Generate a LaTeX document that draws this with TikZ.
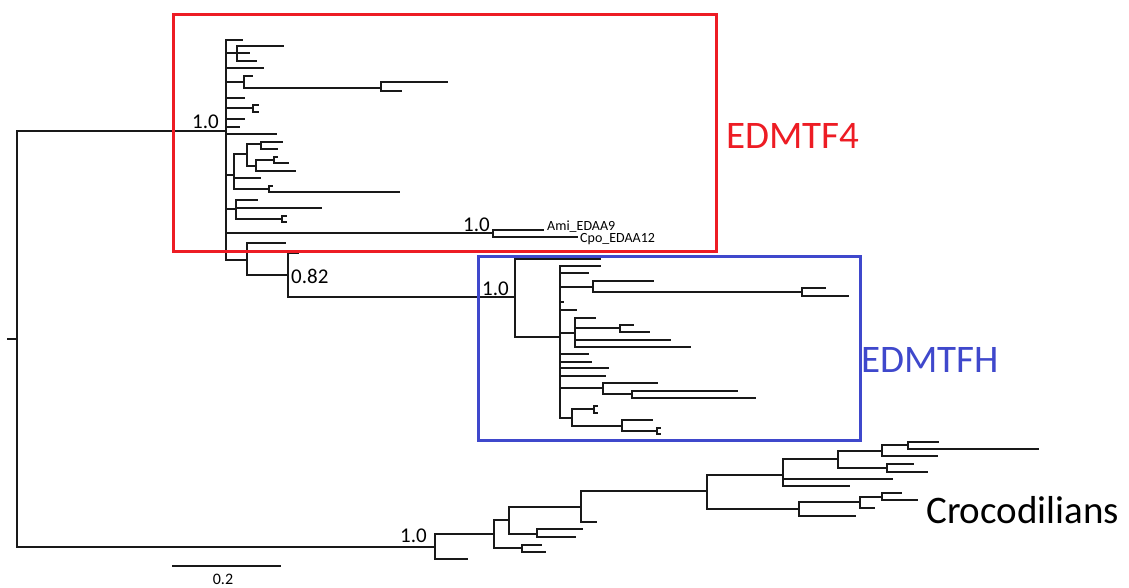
\documentclass[tikz,border=0pt]{standalone}
\usepackage{fontspec}
\setmainfont{Carlito}
\definecolor{boxred}{RGB}{237,28,36}
\definecolor{boxblue}{RGB}{63,72,204}
\newcommand\HB[3]{\draw[br] (#1,#2) -- (#3,#2);}
\newcommand\VB[3]{\draw[br] (#1,#2) -- (#1,#3);}
\tikzset{
  br/.style={line width=1.8pt, line cap=rect, black!90},
  supp/.style={font=\fontsize{21}{23}\selectfont, inner sep=0pt},
  taxon/.style={font=\fontsize{14}{15}\selectfont, inner sep=0pt},
  grp/.style={font=\fontsize{39}{41}\selectfont, inner sep=0pt, anchor=west},
  clbox/.style={line width=3pt}
}
\begin{document}
\begin{tikzpicture}[x=1pt,y=-1pt]
\useasboundingbox (0,0) rectangle (1129,587);
% root
\HB{8}{339}{17}
\VB{17}{131}{547}
\HB{17}{131}{226}
\HB{17}{547}{435}
% EDMTF4 clade
\VB{226}{40}{260}
\HB{226}{40}{242}
\HB{226}{53}{237}\VB{237}{46}{61}\HB{237}{46}{283}\HB{237}{53}{249}\HB{237}{61}{256}
\HB{226}{68}{263}
\HB{226}{82}{244}\VB{244}{76}{88}\HB{244}{76}{252}\HB{244}{88}{381}\VB{381}{82}{91}\HB{381}{82}{447}\HB{381}{91}{401}
\HB{226}{98}{244}
\HB{226}{108}{253}\VB{253}{105}{112}\HB{253}{105}{258}\HB{253}{112}{258}
\HB{226}{119}{244}
\HB{226}{127}{239}
\HB{226}{134}{276}
\HB{226}{175}{234}\VB{234}{154}{189}
\HB{234}{154}{247}\VB{247}{144}{166}
\HB{247}{144}{261}\VB{261}{142}{149}\HB{261}{142}{282}\HB{261}{149}{277}
\HB{247}{166}{256}\VB{256}{160}{171}
\HB{256}{160}{274}\VB{274}{157}{163}\HB{274}{157}{277}\HB{274}{163}{288}
\HB{256}{171}{295}
\HB{234}{178}{260}
\HB{234}{189}{269}\VB{269}{186}{192}\HB{269}{186}{272}\HB{269}{192}{399}
\HB{226}{209}{236}\VB{236}{200}{219}\HB{236}{200}{257}\HB{236}{208}{321}\HB{236}{219}{282}
\VB{282}{216}{222}\HB{282}{216}{286}\HB{282}{222}{286}
\HB{226}{233}{493}\VB{493}{230}{237}\HB{493}{230}{543}\HB{493}{237}{577}
\HB{226}{260}{247}\VB{247}{243}{275}\HB{247}{243}{285}\HB{247}{275}{288}
\VB{288}{253}{297}\HB{288}{253}{298}\HB{288}{297}{515}
% EDMTFH clade
\VB{515}{259}{337}
\HB{515}{259}{600}
\HB{515}{337}{560}\VB{560}{266}{418}
\HB{560}{266}{600}
\HB{560}{273}{588}
\HB{560}{287}{593}\VB{593}{281}{292}\HB{593}{281}{653}\HB{593}{292}{802}\VB{802}{288}{296}\HB{802}{288}{825}\HB{802}{296}{848}
\HB{560}{302}{563}
\HB{560}{310}{576}
\HB{560}{333}{575}\VB{575}{318}{347}\HB{575}{318}{595}\HB{575}{328}{620}\VB{620}{325}{332}\HB{620}{325}{633}\HB{620}{332}{649}\HB{575}{340}{670}\HB{575}{347}{690}
\HB{560}{354}{588}
\HB{560}{362}{591}
\HB{560}{368}{608}
\HB{560}{376}{605}
\HB{560}{388}{603}\VB{603}{383}{394}\HB{603}{383}{657}\HB{603}{394}{632}\VB{632}{391}{398}\HB{632}{391}{737}\HB{632}{398}{755}
\HB{560}{418}{572}\VB{572}{409}{426}\HB{572}{409}{594}\VB{594}{406}{413}\HB{594}{406}{597}\HB{594}{413}{597}
\HB{572}{426}{622}\VB{622}{420}{431}\HB{622}{420}{652}\HB{622}{431}{657}\VB{657}{428}{434}\HB{657}{428}{660}\HB{657}{434}{660}
% Crocodilians clade
\VB{435}{534}{559}\HB{435}{559}{467}\HB{435}{534}{494}
\VB{494}{520}{548}\HB{494}{520}{509}\HB{494}{548}{522}\VB{522}{545}{552}\HB{522}{545}{541}\HB{522}{552}{545}
\VB{509}{507}{534}\HB{509}{507}{581}\HB{509}{534}{537}\VB{537}{529}{537}\HB{537}{529}{582}\HB{537}{537}{575}
\VB{581}{491}{522}\HB{581}{491}{707}\HB{581}{522}{596}
\VB{707}{475}{509}\HB{707}{475}{783}\HB{707}{509}{799}
\VB{783}{459}{486}\HB{783}{459}{838}\HB{783}{479}{892}\HB{783}{486}{849}
\VB{838}{451}{468}\HB{838}{451}{882}\HB{838}{468}{887}
\VB{882}{445}{456}\HB{882}{445}{908}\HB{882}{456}{937}
\VB{908}{442}{449}\HB{908}{442}{938}\HB{908}{449}{1038}
\VB{887}{464}{472}\HB{887}{464}{913}\HB{887}{472}{927}
\VB{799}{502}{516}\HB{799}{502}{860}\HB{799}{516}{855}
\VB{860}{497}{508}\HB{860}{497}{882}\HB{860}{508}{874}
\VB{882}{493}{500}\HB{882}{493}{901}\HB{882}{500}{917}
% scale bar
\draw[br] (173,566) -- (280,566);
\node[font=\fontsize{16}{17}\selectfont, inner sep=0pt, anchor=base] (scale) at (223,584) {0.2};
% boxes
\draw[clbox, boxred] (173,14) rectangle (716,251);
\draw[clbox, boxblue] (478,256) rectangle (860,440);
% support values
\node[supp, anchor=base east] (s1) at (219,128) {1.0};
\node[supp, anchor=base east] (s2) at (490,231) {1.0};
\node[supp, anchor=base west] (s3) at (291,283) {0.82};
\node[supp, anchor=base west] (s4) at (482,295) {1.0};
\node[supp, anchor=base west] (s5) at (400,542) {1.0};
% taxa
\node[taxon, anchor=base west] (ami) at (547,230) {Ami\_EDAA9};
\node[taxon, anchor=base west] (cpo) at (580,242) {Cpo\_EDAA12};
% group labels
\node[grp, text=boxred] (g1) at (726,136) {EDMTF4};
\node[grp, text=boxblue] (g2) at (861,360) {EDMTFH};
\node[grp, text=black] (g3) at (926,510) {Crocodilians};
\end{tikzpicture}
\end{document}
